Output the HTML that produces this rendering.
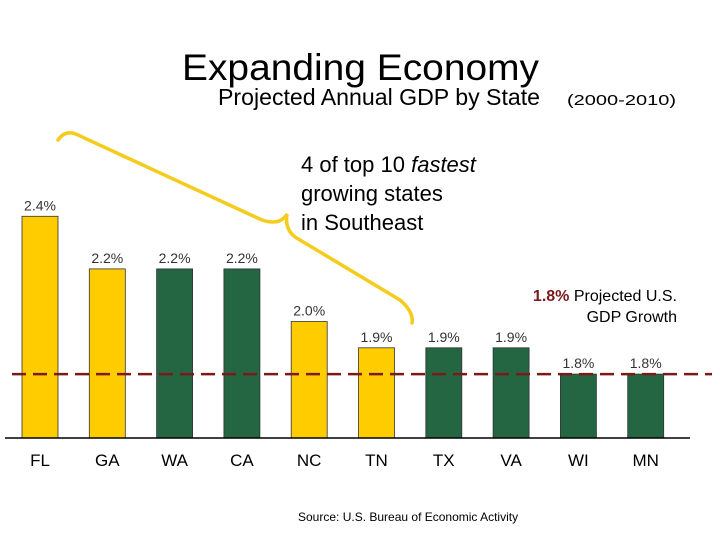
<!DOCTYPE html>
<html><head><meta charset="utf-8"><style>
body{margin:0;background:#fff;}
svg{display:block;font-family:"Liberation Sans",sans-serif;}
</style></head><body>
<svg id="c" width="720" height="540">
<text x="182" y="80" font-size="37" fill="#000" textLength="357" lengthAdjust="spacingAndGlyphs">Expanding Economy</text>
<text x="218" y="105" font-size="23" fill="#000"><tspan textLength="322" lengthAdjust="spacingAndGlyphs">Projected Annual GDP by State</tspan><tspan x="567" font-size="15" textLength="109" lengthAdjust="spacingAndGlyphs">(2000-2010)</tspan></text>
<g>
<text x="301" y="172" font-size="22">4 of top 10 <tspan font-style="italic">fastest</tspan></text>
<text x="301" y="201" font-size="22">growing states</text>
<text x="301" y="230" font-size="22">in Southeast</text>
</g>
<path d="M58,140 Q66,128 80,136 L262,220 Q280,226 287,214 Q284,232 300,240 L400,300 Q414,312 412,323" fill="none" stroke="#F5CC1E" stroke-width="3.5" stroke-linecap="round"/>
<g id="bars"></g>
<line x1="5" y1="438" x2="690" y2="438" stroke="#000" stroke-width="1.5"/>
<line id="ref" x1="12" x2="712" stroke="#7A1A1A" stroke-width="2.5" stroke-dasharray="14,7"/>
<g>
<text x="677" y="301" font-size="16" text-anchor="end"><tspan fill="#7A1A1A" font-weight="bold">1.8%</tspan> Projected U.S.</text>
<text x="677" y="322" font-size="16" text-anchor="end">GDP Growth</text>
</g>
<text x="298" y="521" font-size="12">Source: U.S. Bureau of Economic Activity</text>
</svg>
<script>
const categories=["FL","GA","WA","CA","NC","TN","TX","VA","WI","MN"];
const values=[2.4,2.2,2.2,2.2,2.0,1.9,1.9,1.9,1.8,1.8];
const southeast=[true,true,false,false,true,true,false,false,false,false];
const labels=["2.4%","2.2%","2.2%","2.2%","2.0%","1.9%","1.9%","1.9%","1.8%","1.8%"];
const usGrowth=1.8;
const yMin=1.557,baseY=438,pxPer=263;
function y(v){return baseY-(v-yMin)*pxPer;}
function x(i){return 22+i*67.3;}
const g=document.getElementById('bars');
const ns="http://www.w3.org/2000/svg";
categories.forEach((c,i)=>{
 const r=document.createElementNS(ns,'rect');
 
 
 r.setAttribute('x',x(i));r.setAttribute('y',y(values[i]));
 r.setAttribute('width',36);r.setAttribute('height',baseY-y(values[i]));
 r.setAttribute('fill',southeast[i]?'#FFCC00':'#236641');
 r.setAttribute('stroke','#333');r.setAttribute('stroke-width','0.8');
 g.appendChild(r);
 const t=document.createElementNS(ns,'text');
 
 
 t.setAttribute('x',x(i)+18);t.setAttribute('y',y(values[i])-6);
 t.setAttribute('font-size','14');t.setAttribute('text-anchor','middle');t.setAttribute('fill','#333');
 t.textContent=labels[i];g.appendChild(t);
 const l=document.createElementNS(ns,'text');
 
 
 l.setAttribute('x',x(i)+18);l.setAttribute('y',466);
 l.setAttribute('font-size','17');l.setAttribute('text-anchor','middle');
 l.textContent=c;g.appendChild(l);
});
const ref=document.getElementById('ref');
ref.setAttribute('y1',y(usGrowth));ref.setAttribute('y2',y(usGrowth));
</script>
</body></html>
